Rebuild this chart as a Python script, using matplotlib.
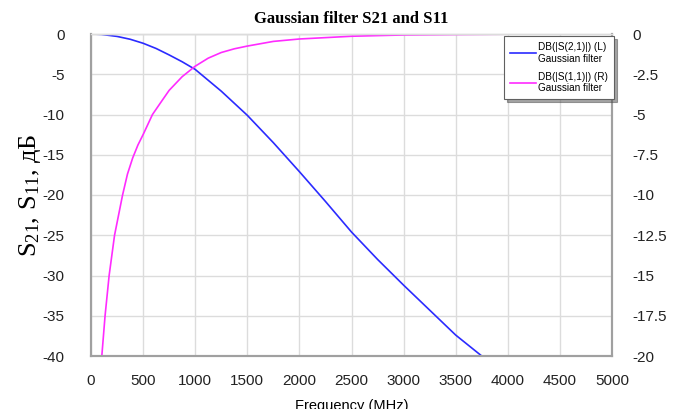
import numpy as np
import matplotlib
matplotlib.use("Agg")
import matplotlib.pyplot as plt

# S21 (left axis, dB)
f_s21 = [0, 100, 250, 375, 500, 625, 750, 875, 1000, 1250, 1500, 1750, 2000, 2250,
         2500, 2750, 3000, 3250, 3500, 3750]
s21_db = [0, -0.05, -0.3, -0.65, -1.15, -1.8, -2.6, -3.45, -4.4, -7.1, -10.1, -13.5, -17.1, -20.8,
          -24.6, -28.0, -31.2, -34.3, -37.4, -40.0]

# S11 (right axis, dB)
f_s11 = [100, 135, 174, 226, 303, 350, 400, 450, 500, 590, 675, 750, 875, 1000, 1125, 1250,
         1375, 1500, 1750, 2000, 2500, 3000, 3500, 4000, 5000]
s11_db = [-20.3, -17.5, -15.0, -12.5, -10.0, -8.7, -7.7, -6.9, -6.25, -5.0, -4.2, -3.5, -2.65,
          -2.0, -1.5, -1.15, -0.92, -0.75, -0.46, -0.31, -0.14, -0.06, -0.03, -0.01, 0.0]

x_ticks = [0, 500, 1000, 1500, 2000, 2500, 3000, 3500, 4000, 4500, 5000]
left_ticks = [0, -5, -10, -15, -20, -25, -30, -35, -40]
right_ticks = [0, -2.5, -5, -7.5, -10, -12.5, -15, -17.5, -20]
right_labels = ["0", "-2.5", "-5", "-7.5", "-10", "-12.5", "-15", "-17.5", "-20"]

plt.rcParams['font.family'] = ['Liberation Sans', 'DejaVu Sans']
plt.rcParams['axes.unicode_minus'] = False
plt.rcParams['mathtext.fontset'] = 'custom'
plt.rcParams['mathtext.rm'] = 'Liberation Serif'
plt.rcParams['mathtext.it'] = 'Liberation Serif:italic'

fig = plt.figure(figsize=(6.78, 4.09), dpi=100)
ax = fig.add_axes([91 / 678, 1 - 356 / 409, (612 - 91) / 678, (356 - 34) / 409])
ax2 = ax.twinx()

grey = '#a0a0a0'
l1, = ax.plot(f_s21, s21_db, color='#2b2bff', lw=1.2,
              label='DB(|S(2,1)|) (L)\nGaussian filter')
l2, = ax2.plot(f_s11, s11_db, color='#ff2bff', lw=1.2,
               label='DB(|S(1,1)|) (R)\nGaussian filter')

ax.set_xlim(0, 5000)
ax.set_ylim(-40, 0)
ax2.set_ylim(-20, 0)
ax.set_xticks(x_ticks)
ax.set_yticks(left_ticks)
ax2.set_yticks(right_ticks)
ax2.set_yticklabels(right_labels)

ax.grid(True, color='#dcdcdc', lw=1.0)
ax.set_axisbelow(True)

for a in (ax, ax2):
    for side in ('left', 'right', 'bottom'):
        a.spines[side].set_color(grey)
        a.spines[side].set_linewidth(1.5)
    a.spines['top'].set_color('#dcdcdc')
    a.spines['top'].set_linewidth(1.0)
    a.tick_params(length=0, labelsize=11, colors='#222222')
ax.tick_params(axis='y', pad=19)
ax2.tick_params(axis='y', pad=15)
ax.tick_params(axis='x', pad=13)

ax.set_title('Gaussian filter S21 and S11', family='Liberation Serif',
             fontweight='bold', fontsize=12, pad=8)
ax.set_xlabel('Frequency (MHz)', fontsize=10.5, labelpad=8)
ax.set_ylabel(r'S$_{21}$, S$_{11}$, дБ', family='Liberation Serif',
              fontsize=19, labelpad=0)

leg = ax2.legend(handles=[l1, l2], loc='upper right',
                 bbox_to_anchor=(614 / 678, 1 - 36 / 409),
                 bbox_transform=fig.transFigure,
                 fontsize=7.2, frameon=True, fancybox=False, shadow=True,
                 handlelength=2.6, handletextpad=0.2, labelspacing=0.8,
                 borderpad=0.6, borderaxespad=0)
leg.get_frame().set_edgecolor('#606060')
leg.get_frame().set_linewidth(0.8)

fig.savefig('out.png', dpi=100)
